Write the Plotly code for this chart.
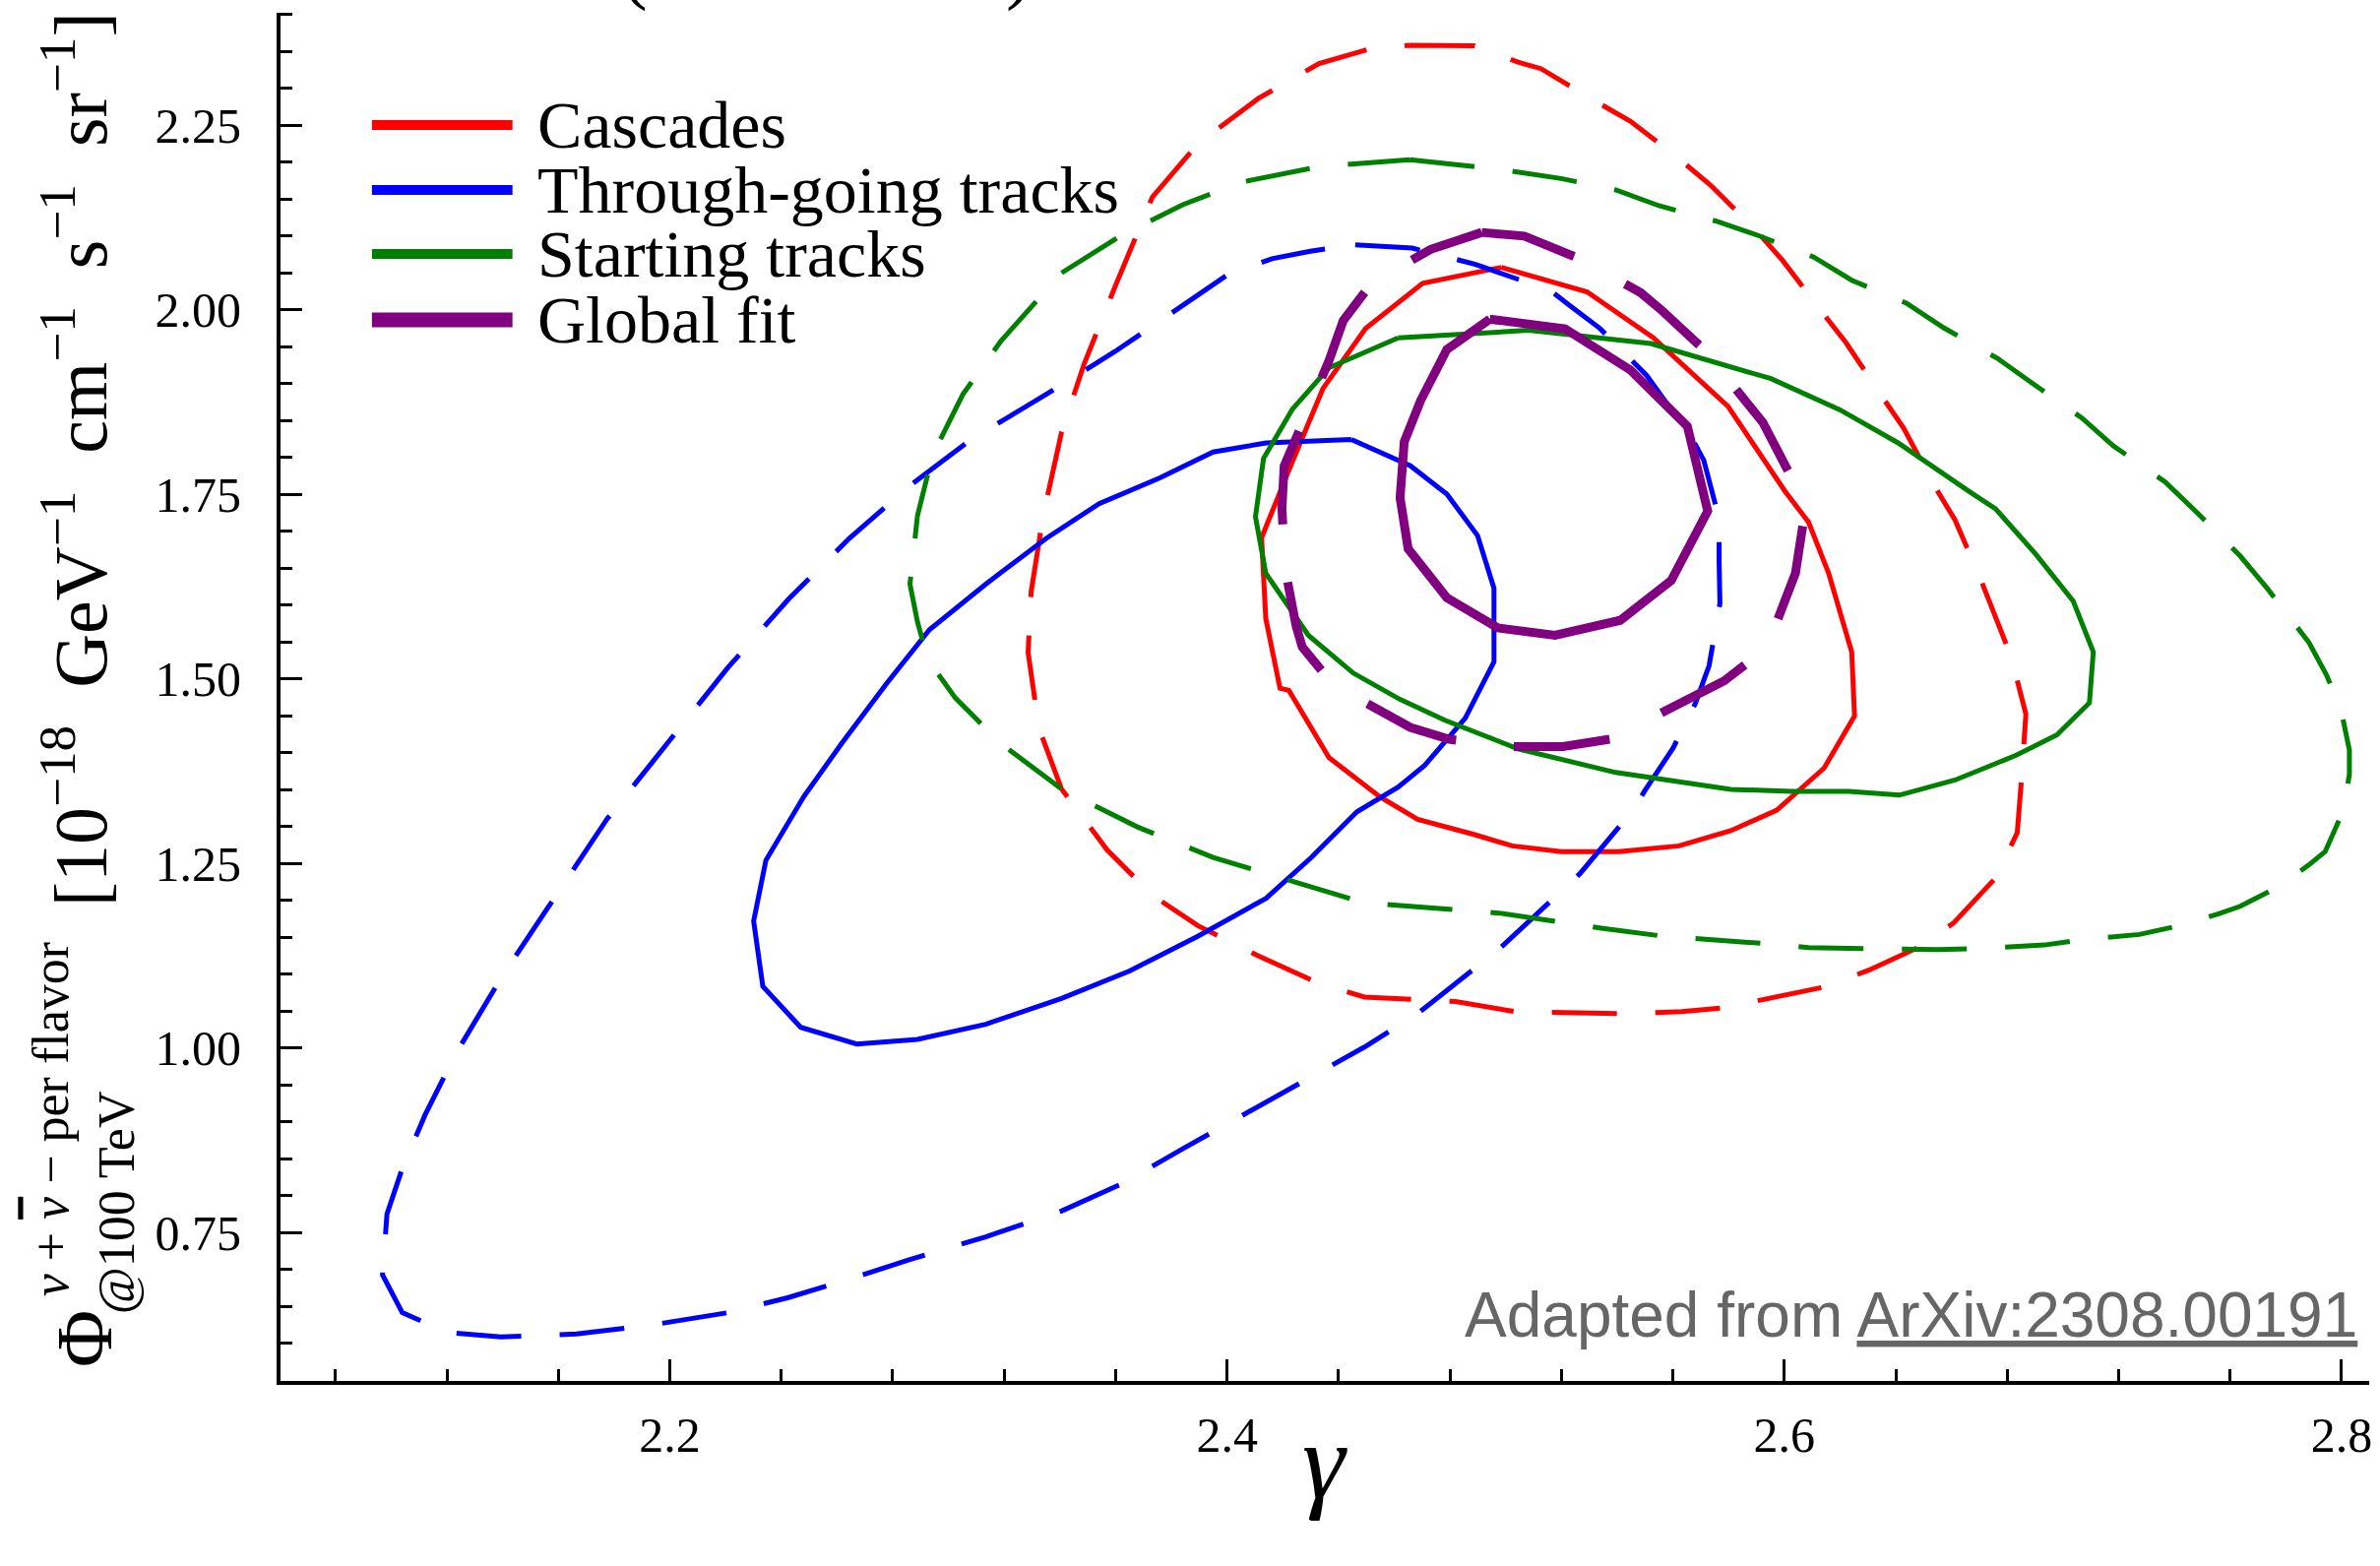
import plotly.graph_objects as go

# ---------------- data (gamma, flux) ----------------
casc68_x = [2.4984, 2.5292, 2.5529, 2.5798, 2.6004, 2.6087, 2.6159, 2.6242, 2.6252, 2.6143, 2.5973, 2.5808,
            2.5622, 2.5405, 2.5199, 2.5023, 2.4889, 2.4684, 2.4548, 2.4366, 2.4222, 2.4190, 2.4139, 2.4124,
            2.4230, 2.4344, 2.4497, 2.4702]
casc68_y = [2.0572, 2.0240, 1.9620, 1.8687, 1.7530, 1.7120, 1.6430, 1.5360, 1.4495, 1.3790, 1.3220, 1.2940,
            1.2735, 1.2657, 1.2657, 1.2735, 1.2887, 1.3095, 1.3400, 1.3930, 1.4841, 1.4870, 1.5816, 1.6910,
            1.7900, 1.8928, 1.9744, 2.0357]

casc95_x = [2.4656, 2.4889, 2.5044, 2.5126, 2.5323, 2.5447, 2.5601, 2.5735, 2.5901, 2.5994, 2.6138, 2.6221,
            2.6355, 2.6428, 2.6541, 2.6613, 2.6706, 2.6758, 2.6810, 2.6834, 2.6867, 2.6851, 2.6836, 2.6758,
            2.6607, 2.6479, 2.6303, 2.6138, 2.6004, 2.5777, 2.5632, 2.5405, 2.5034, 2.4820, 2.4493, 2.4330,
            2.4113, 2.3895, 2.3732, 2.3569, 2.3406, 2.3325, 2.3286, 2.3297, 2.3340, 2.3406, 2.3487, 2.3596,
            2.3732, 2.3895, 2.4113, 2.4330, 2.4521]
casc95_y = [2.3580, 2.3575, 2.3353, 2.3264, 2.2820, 2.2553, 2.2108, 2.1687, 2.1064, 2.0664, 1.9953, 1.9553,
            1.8797, 1.8397, 1.7597, 1.7148, 1.6332, 1.5847, 1.5336, 1.5005, 1.4520, 1.3627, 1.2913, 1.2300,
            1.1688, 1.1356, 1.1051, 1.0820, 1.0719, 1.0540, 1.0489, 1.0464, 1.0489, 1.0627, 1.0688, 1.0873,
            1.1244, 1.1655, 1.2067, 1.2683, 1.3505, 1.4328, 1.5356, 1.6179, 1.7207, 1.8337, 1.9263, 2.0291,
            2.1524, 2.2244, 2.2861, 2.3333, 2.3540]

thru68_x = [2.4446, 2.4658, 2.4789, 2.4899, 2.4958, 2.4958, 2.4855, 2.4709, 2.4614, 2.4466, 2.4303, 2.4140,
            2.3895, 2.3650, 2.3406, 2.3134, 2.2889, 2.2671, 2.2470, 2.2334, 2.2301, 2.2345, 2.2481, 2.2617,
            2.2780, 2.2932, 2.3134, 2.3351, 2.3541, 2.3759, 2.3950, 2.4140]
thru68_y = [1.8240, 1.7883, 1.7500, 1.6939, 1.6224, 1.5229, 1.4464, 1.3825, 1.3530, 1.3197, 1.2580, 1.2025,
            1.1511, 1.1039, 1.0668, 1.0319, 1.0113, 1.0051, 1.0277, 1.0832, 1.1717, 1.2539, 1.3403, 1.4123,
            1.4944, 1.5664, 1.6281, 1.6900, 1.7370, 1.7720, 1.8070, 1.8193]

thru95_x = [2.4460, 2.4526, 2.4665, 2.4892, 2.5023, 2.5162, 2.5228, 2.5338, 2.5506, 2.5667, 2.5711, 2.5744,
            2.5766, 2.5766, 2.5769, 2.5730, 2.5681, 2.5601, 2.5498, 2.5463, 2.5353, 2.5267, 2.5106, 2.4992,
            2.4889, 2.4684, 2.4493, 2.4276, 2.4058, 2.3841, 2.3623, 2.3406, 2.3134, 2.2862, 2.2644, 2.2426,
            2.2209, 2.1937, 2.1665, 2.1393, 2.1202, 2.1040, 2.0969, 2.0985, 2.1040, 2.1121, 2.1230, 2.1393,
            2.1556, 2.1774, 2.1991, 2.2209, 2.2426, 2.2644, 2.2862, 2.3079, 2.3351, 2.3596, 2.3800, 2.4007,
            2.4161, 2.4299]
thru95_y = [2.0877, 2.0867, 2.0832, 2.0612, 2.0444, 2.0255, 2.0061, 1.9745, 1.9107, 1.8265, 1.7959, 1.7448,
            1.7168, 1.6581, 1.6020, 1.5177, 1.4668, 1.4061, 1.3475, 1.3244, 1.2744, 1.2361, 1.1791, 1.1392,
            1.1076, 1.0463, 1.0010, 0.9557, 0.9085, 0.8632, 0.8160, 0.7789, 0.7440, 0.7131, 0.6864, 0.6617,
            0.6412, 0.6247, 0.6124, 0.6083, 0.6144, 0.6412, 0.6925, 0.7748, 0.8365, 0.9085, 0.9907, 1.0936,
            1.1861, 1.3095, 1.4123, 1.5151, 1.6076, 1.6899, 1.7617, 1.8235, 1.8852, 1.9427, 1.9950, 2.0484,
            2.0689, 2.0791]

start68_x = [2.4614, 2.5082, 2.5521, 2.5952, 2.6200, 2.6407, 2.6665, 2.6758, 2.6902, 2.7037, 2.7109, 2.7095,
             2.6979, 2.6830, 2.6613, 2.6413, 2.6231, 2.6025, 2.5808, 2.5395, 2.5044, 2.4782, 2.4621, 2.4453,
             2.4292, 2.4139, 2.4102, 2.4131, 2.4234, 2.4365]
start68_y = [1.9617, 1.9719, 1.9540, 1.9064, 1.8641, 1.8197, 1.7531, 1.7301, 1.6689, 1.6050, 1.5363, 1.4674,
             1.4240, 1.3959, 1.3627, 1.3423, 1.3475, 1.3475, 1.3500, 1.3729, 1.4050, 1.4437, 1.4719, 1.5076,
             1.5587, 1.6428, 1.7193, 1.7984, 1.8648, 1.9210]

start95_x = [2.4656, 2.4961, 2.5199, 2.5395, 2.5550, 2.5756, 2.5911, 2.6107, 2.6242, 2.6438, 2.6572, 2.6768,
             2.6892, 2.7068, 2.7181, 2.7367, 2.7481, 2.7636, 2.7735, 2.7883, 2.7945, 2.7997, 2.8028, 2.8028,
             2.8007, 2.7941, 2.7883, 2.7770, 2.7636, 2.7559, 2.7429, 2.7274, 2.7058, 2.6933, 2.6686, 2.6551,
             2.6314, 2.6087, 2.5942, 2.5715, 2.5570, 2.5343, 2.5199, 2.4976, 2.4493, 2.4222, 2.3950, 2.3678,
             2.3406, 2.3188, 2.3025, 2.2927, 2.2889, 2.2862, 2.2889, 2.2943, 2.3052, 2.3188, 2.3406, 2.3623,
             2.3841, 2.4058, 2.4330]
start95_y = [2.2030, 2.1908, 2.1775, 2.1620, 2.1407, 2.1197, 2.0997, 2.0708, 2.0397, 2.0087, 1.9753, 1.9331,
             1.8997, 1.8531, 1.8153, 1.7664, 1.7251, 1.6663, 1.6215, 1.5489, 1.5056, 1.4597, 1.4035, 1.3704,
             1.3219, 1.2657, 1.2479, 1.2173, 1.1917, 1.1816, 1.1663, 1.1535, 1.1459, 1.1392, 1.1341, 1.1331,
             1.1341, 1.1356, 1.1408, 1.1473, 1.1509, 1.1621, 1.1699, 1.1825, 1.1964, 1.2272, 1.2580, 1.2992,
             1.3505, 1.4123, 1.4739, 1.5253, 1.5767, 1.6281, 1.7207, 1.8029, 1.8852, 1.9571, 2.0496, 2.1011,
             2.1421, 2.1731, 2.1936]

glob68_x = [2.4943, 2.5213, 2.5448, 2.5652, 2.5725, 2.5594, 2.5411, 2.5177, 2.4972, 2.4789, 2.4650, 2.4621,
            2.4636, 2.4695, 2.4789]
glob68_y = [1.9870, 1.9740, 1.9180, 1.8420, 1.7270, 1.6330, 1.5790, 1.5587, 1.5688, 1.6096, 1.6760, 1.7450,
            1.8210, 1.8770, 1.9460]

glob95_x = [2.4914, 2.5067, 2.5265, 2.5484, 2.5557, 2.5711, 2.5923, 2.6025, 2.6069, 2.6040, 2.5967, 2.5908,
            2.5784, 2.5528, 2.5374, 2.5206, 2.5001, 2.4797, 2.4658, 2.4475, 2.4380, 2.4270, 2.4248, 2.4209,
            2.4197, 2.4205, 2.4285, 2.4366, 2.4417, 2.4519, 2.4731]
glob95_y = [2.1045, 2.0995, 2.0690, 2.0230, 2.0000, 1.9460, 1.8470, 1.7730, 1.7140, 1.6430, 1.5710, 1.5330,
            1.4970, 1.4490, 1.4180, 1.4080, 1.4080, 1.4180, 1.4340, 1.4720, 1.4920, 1.5430, 1.5710, 1.6480,
            1.7300, 1.7880, 1.8600, 1.9310, 1.9850, 2.0360, 2.0816]

series_names = ["Cascades", "Through-going tracks", "Starting tracks", "Global fit"]
series_colors = ["#ff0000", "#0000ff", "#008000", "#800080"]

x_tick_vals = [2.2, 2.4, 2.6, 2.8]
x_tick_text = ["2.2", "2.4", "2.6", "2.8"]
y_tick_vals = [0.75, 1.00, 1.25, 1.50, 1.75, 2.00, 2.25]
y_tick_text = ["0.75", "1.00", "1.25", "1.50", "1.75", "2.00", "2.25"]

# ---------------- figure ----------------
W, H = 2418, 1591
ML, MR, MT, MB = 285, 8, 13, 188
PW, PH = W - ML - MR, H - MT - MB


def px(fx):
    return (fx - ML) / PW


def py(fy):
    return (H - MB - fy) / PH


def closed(a):
    return list(a) + [a[0]]


contours = [
    (casc95_x, casc95_y, 0, True), (casc68_x, casc68_y, 0, False),
    (thru95_x, thru95_y, 1, True), (thru68_x, thru68_y, 1, False),
    (start95_x, start95_y, 2, True), (start68_x, start68_y, 2, False),
    (glob95_x, glob95_y, 3, True), (glob68_x, glob68_y, 3, False),
]

fig = go.Figure()
for xs, ys, i, dashed in contours:
    purple = (i == 3)
    if dashed:
        dash = "98px,59px" if purple else "66px,39px"
    else:
        dash = "solid"
    fig.add_trace(go.Scatter(
        x=closed(xs), y=closed(ys), mode="lines",
        name=series_names[i] + (" (95%)" if dashed else " (68%)"),
        line=dict(color=series_colors[i], width=9 if purple else 5, dash=dash),
        showlegend=False, hoverinfo="skip"))

serif = "Liberation Serif, DejaVu Serif, serif"
axis_common = dict(showline=True, linecolor="black", linewidth=4, mirror=False,
                   showgrid=False, zeroline=False, ticks="inside", ticklen=22,
                   tickwidth=3, tickcolor="black",
                   tickfont=dict(family=serif, size=50, color="black"))

fig.update_layout(
    width=W, height=H,
    margin=dict(l=ML, r=MR, t=MT, b=MB, pad=0),
    paper_bgcolor="white", plot_bgcolor="white",
    showlegend=False,
    xaxis=dict(range=[2.0603, 2.8099], tickmode="array", tickvals=x_tick_vals,
               ticktext=x_tick_text, ticklabelstandoff=8,
               minor=dict(ticks="inside", ticklen=12, tickwidth=3, tickcolor="black",
                          tickmode="linear", tick0=2.2, dtick=0.04),
               **axis_common),
    yaxis=dict(range=[0.5487, 2.402], tickmode="array", tickvals=y_tick_vals,
               ticktext=y_tick_text, ticklabelstandoff=26,
               minor=dict(ticks="inside", ticklen=12, tickwidth=3, tickcolor="black",
                          tickmode="linear", tick0=0.75, dtick=0.05),
               **axis_common),
)

ann = []
# x axis title
ann.append(dict(text="<i>γ</i>", x=0.5, y=py(1485), xref="paper", yref="paper",
                xanchor="center", yanchor="middle", showarrow=False,
                font=dict(family=serif, size=110, color="black")))
# y axis title pieces (rotated)
ann.append(dict(text="[10<sup>−18</sup>\u2002GeV<sup>−1</sup>\u2002cm<sup>−1</sup>\u2002s<sup>−1</sup>\u2002sr<sup>−1</sup>]",
                x=px(76), y=py(467), xref="paper", yref="paper", textangle=-90,
                xanchor="center", yanchor="middle", showarrow=False,
                font=dict(family=serif, size=76, color="black")))
ann.append(dict(text="Φ", x=px(86), y=py(1360), xref="paper", yref="paper", textangle=-90,
                xanchor="center", yanchor="middle", showarrow=False,
                font=dict(family=serif, size=80, color="black")))
ann.append(dict(text="<i>ν</i> + <span style=\"text-decoration:overline\"><i>ν</i></span> − per flavor",
                x=px(51), y=py(1137),
                xref="paper", yref="paper", textangle=-90,
                xanchor="center", yanchor="middle", showarrow=False,
                font=dict(family=serif, size=52, color="black")))
ann.append(dict(text="@100 TeV", x=px(118), y=py(1222), xref="paper", yref="paper", textangle=-90,
                xanchor="center", yanchor="middle", showarrow=False,
                font=dict(family=serif, size=52, color="black")))
# cut-off title fragments at the top edge
for ch, cx in (("(", 645), (")", 1037)):
    ann.append(dict(text=ch, x=px(cx), y=py(14), xref="paper", yref="paper",
                    xanchor="center", yanchor="bottom", showarrow=False,
                    font=dict(family=serif, size=80, color="black")))
# credit
ann.append(dict(text="Adapted from <u>ArXiv:2308.00191</u>", x=px(2400), y=py(1336),
                xref="paper", yref="paper", xanchor="right", yanchor="middle", showarrow=False,
                font=dict(family="Liberation Sans, Arial, sans-serif", size=64, color="#666666")))

# legend (drawn manually to match long key lines)
legend_y = [127, 193, 258, 325]
shapes = []
for i, name in enumerate(series_names):
    yy = py(legend_y[i])
    shapes.append(dict(type="line", xref="paper", yref="paper", x0=px(378), x1=px(521), y0=yy, y1=yy,
                       line=dict(color=series_colors[i], width=15 if i == 3 else 10)))
    ann.append(dict(text=name, x=px(544), y=yy, xref="paper", yref="paper",
                    xanchor="left", yanchor="middle", showarrow=False,
                    font=dict(family=serif, size=68, color="black")))

fig.update_layout(annotations=ann, shapes=shapes)
fig.write_html("out.html")
